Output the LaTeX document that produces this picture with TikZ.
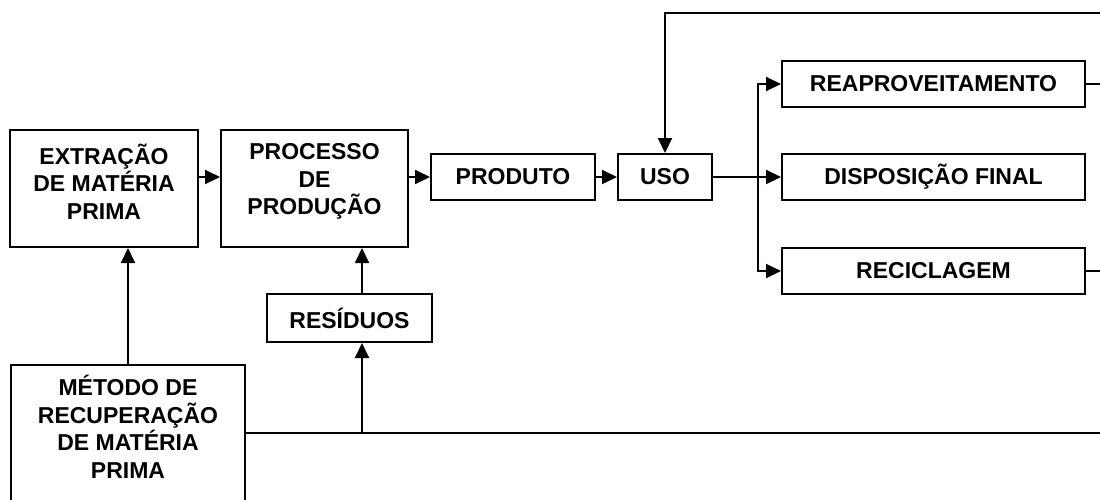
\documentclass[tikz,border=0pt]{standalone}
\usepackage{fontspec}
\setmainfont{Liberation Sans}
\usetikzlibrary{arrows.meta}
\begin{document}
\begin{tikzpicture}[x=1pt,y=-1pt, line width=2pt,
  box/.style={draw, line width=2pt, inner sep=0pt, rectangle},
  lbl/.style={font=\bfseries\fontsize{23}{27.5}\selectfont, align=center, inner sep=0pt},
  wire/.style={draw, line width=2pt},
  arr/.style={draw, line width=2pt, -{Triangle[length=15pt,width=14pt]}}]
\useasboundingbox (0,0) rectangle (1100,499);
\clip (0,0) rectangle (1100,499);
% boxes
\node[box, minimum width=188pt, minimum height=117pt] (extr) at (104,188.5) {};
\node[lbl] at (104,181.5) {EXTRAÇÃO\\DE MATÉRIA\\PRIMA};
\node[box, minimum width=187pt, minimum height=117pt] (proc) at (314.5,188.5) {};
\node[lbl] at (314.5,181.5) {PROCESSO\\DE\\PRODUÇÃO};
\node[box, lbl, minimum width=164pt, minimum height=46pt] (prod) at (513,177) {PRODUTO};
\node[box, lbl, minimum width=94pt, minimum height=46pt] (uso) at (665,177) {USO};
\node[box, lbl, minimum width=303pt, minimum height=46pt] (reap) at (933.5,84) {REAPROVEITAMENTO};
\node[box, lbl, minimum width=303pt, minimum height=46pt] (disp) at (933.5,177) {DISPOSIÇÃO FINAL};
\node[box, lbl, minimum width=303pt, minimum height=46pt] (reci) at (933.5,271) {RECICLAGEM};
\node[box, lbl, minimum width=165pt, minimum height=48pt] (resid) at (349.5,318) {RESÍDUOS};
\node[box, minimum width=234pt, minimum height=160pt, anchor=north] (metodo) at (128,364) {};
\node[lbl] at (128,427) {MÉTODO DE\\RECUPERAÇÃO\\DE MATÉRIA\\PRIMA};
% coordinates
\coordinate (branch) at (758,177);
\coordinate (toprt) at (1110,13);
\coordinate (reapout) at (1110,84);
\coordinate (reciout) at (1110,271);
\coordinate (botrt) at (1110,433);
\coordinate (rb) at (362,433);
% connectors
\draw[arr] (extr.east |- prod.center) -- (proc.west |- prod.center);
\draw[arr] (proc.east |- prod.center) -- (prod.west);
\draw[arr] (prod.east) -- (uso.west);
\draw[wire] (uso.east) -- (branch);
\draw[arr] (branch) -- (disp.west);
\draw[arr] (branch) |- (reap.west);
\draw[arr] (branch) |- (reci.west);
\draw[wire] (reap.east) -- (reapout);
\draw[wire] (reci.east) -- (reciout);
\draw[arr] (toprt) -| (uso.north);
\draw[wire] (metodo.east |- botrt) -- (botrt);
\draw[arr] (metodo.north) -- (metodo.north |- extr.south);
\draw[arr] (rb) -- (rb |- resid.south);
\draw[arr] (rb |- resid.north) -- (rb |- proc.south);
\end{tikzpicture}
\end{document}
